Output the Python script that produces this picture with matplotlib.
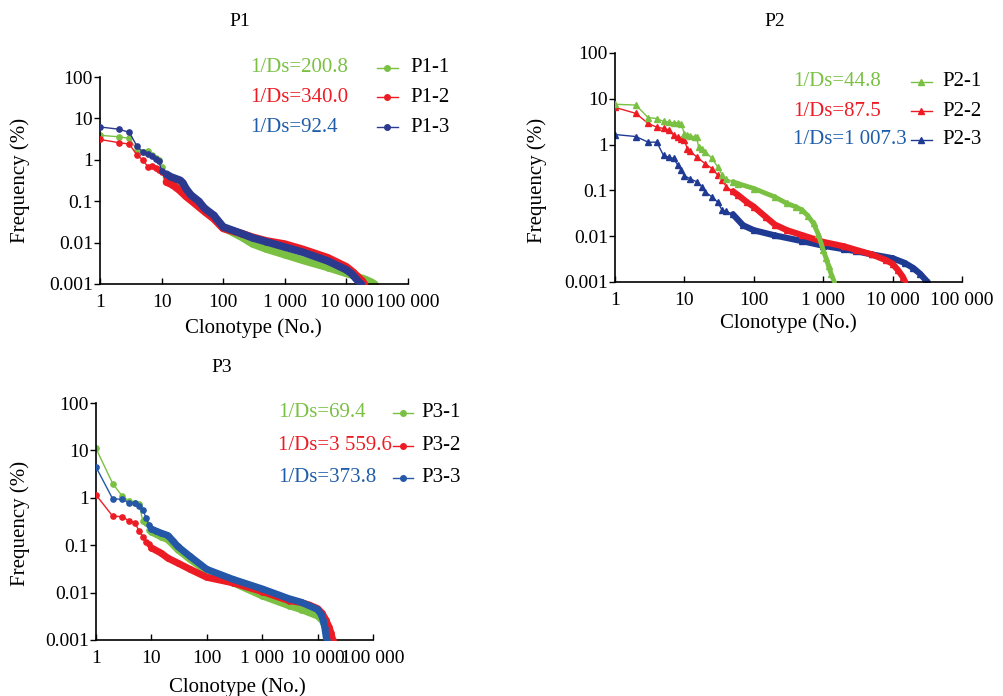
import numpy as np
import matplotlib
matplotlib.use("Agg")
import matplotlib.pyplot as plt
from matplotlib.lines import Line2D
from matplotlib.ticker import NullLocator

plt.rcParams['font.family'] = ['Liberation Serif', 'DejaVu Serif']

W, H = 1004, 696

GREEN = '#7ac143'
RED = '#ed1c24'
BLUE_TXT = '#1f5daa'

x_ticks = [1, 10, 100, 1000, 10000, 100000]
x_labels = ['1', '10', '100', '1 000', '10 000', '100 000']
y_ticks = [0.001, 0.01, 0.1, 1, 10, 100]
y_labels = ['0.001', '0.01', '0.1', '1', '10', '100']

# ---- P1 rank / frequency (%) ----
p1_1_rank = [1, 2, 3, 4, 5, 6, 7, 8, 9, 10, 12, 15, 18, 20, 25, 30, 40, 50, 70, 100,
             200, 300, 500, 1000, 2000, 5000, 10000, 15000, 20000, 25000, 28500, 30000]
p1_1_freq = [3.9, 3.6, 3.3, 1.7, 1.55, 1.6, 1.3, 1.1, 1.0, 0.68, 0.38, 0.32, 0.28, 0.25, 0.18, 0.14,
             0.095, 0.065, 0.042, 0.023, 0.0135, 0.0093, 0.007, 0.0051, 0.0037, 0.0025, 0.0018,
             0.0015, 0.0013, 0.00112, 0.001, 0.0009]
p1_2_rank = [1, 2, 3, 4, 5, 6, 7, 8, 9, 10, 12, 15, 20, 25, 30, 50, 70, 100, 200, 300, 500,
             1000, 2000, 5000, 10000, 13000, 16000, 18000, 19500, 21000]
p1_2_freq = [3.1, 2.6, 2.4, 1.28, 0.98, 0.67, 0.7, 0.65, 0.58, 0.51, 0.29, 0.25, 0.18, 0.13, 0.105,
             0.056, 0.038, 0.022, 0.0165, 0.0135, 0.011, 0.0092, 0.0068, 0.0043, 0.0026, 0.0019,
             0.0014, 0.0012, 0.001, 0.0008]
p1_3_rank = [1, 2, 3, 4, 5, 6, 7, 8, 9, 10, 12, 14, 17, 20, 22, 25, 30, 40, 50, 70, 100, 200,
             300, 500, 1000, 2000, 5000, 10000, 12000, 14000, 16000, 17500, 18500]
p1_3_freq = [6.2, 5.5, 4.6, 2.1, 1.55, 1.37, 1.23, 1.03, 0.94, 0.54, 0.45, 0.39, 0.35, 0.32, 0.28,
             0.2, 0.14, 0.1, 0.067, 0.046, 0.024, 0.0165, 0.013, 0.0105, 0.0078, 0.0058, 0.0036,
             0.0022, 0.0018, 0.0014, 0.0011, 0.001, 0.0008]

# ---- P2 ----
p2_1_rank = [1, 2, 3, 4, 5, 6, 7, 8, 9, 10, 11, 12, 14, 15, 16, 18, 20, 25, 30, 35, 40, 50, 60,
             100, 200, 300, 400, 500, 600, 725, 850, 1000, 1100, 1200, 1300, 1450, 1550]
p2_1_freq = [7.6, 7.3, 3.9, 3.7, 3.2, 3.1, 3.0, 3.0, 2.8, 1.74, 1.6, 1.55, 1.5, 1.45, 0.89, 0.8,
             0.7, 0.5, 0.33, 0.22, 0.18, 0.155, 0.14, 0.11, 0.072, 0.052, 0.044, 0.037, 0.028,
             0.019, 0.011, 0.005, 0.0033, 0.0022, 0.0015, 0.001, 0.0008]
p2_2_rank = [1, 2, 3, 4, 5, 6, 7, 8, 9, 10, 11, 12, 15, 20, 25, 30, 35, 40, 50, 60, 80, 100, 150,
             200, 300, 500, 1000, 2000, 3000, 5000, 8000, 10000, 12000, 14000, 15200, 16000]
p2_2_freq = [6.5, 4.8, 2.9, 2.4, 2.25, 2.1, 1.6, 1.45, 1.35, 1.25, 0.82, 0.72, 0.54, 0.38, 0.3,
             0.22, 0.17, 0.12, 0.095, 0.078, 0.055, 0.044, 0.026, 0.018, 0.0135, 0.0105, 0.0075,
             0.006, 0.005, 0.004, 0.003, 0.0025, 0.0018, 0.0013, 0.001, 0.0008]
p2_3_rank = [1, 2, 3, 4, 5, 6, 7, 8, 9, 10, 12, 15, 18, 20, 25, 30, 35, 40, 50, 70, 100, 200,
             500, 1000, 2000, 3000, 5000, 10000, 15000, 20000, 25000, 30000, 32000, 34000]
p2_3_freq = [1.66, 1.5, 1.13, 1.13, 0.58, 0.53, 0.5, 0.36, 0.28, 0.21, 0.18, 0.155, 0.12, 0.092,
             0.072, 0.056, 0.037, 0.035, 0.03, 0.0173, 0.0135, 0.0104, 0.0078, 0.0062, 0.0052,
             0.0047, 0.004, 0.0033, 0.0026, 0.002, 0.0015, 0.0011, 0.001, 0.0008]

# ---- P3 ----
p3_1_rank = [1, 2, 3, 4, 5, 6, 7, 8, 9, 10, 15, 20, 30, 50, 100, 200, 300, 1000, 3000, 5000,
             10000, 12000, 14000, 15500, 16700, 17500]
p3_1_freq = [11.0, 2.0, 1.07, 0.85, 0.77, 0.75, 0.32, 0.29, 0.21, 0.19, 0.15, 0.13, 0.08, 0.05,
             0.028, 0.019, 0.016, 0.0085, 0.0053, 0.0044, 0.0032, 0.0026, 0.0019, 0.0014, 0.001,
             0.0008]
p3_2_rank = [1, 2, 3, 4, 5, 6, 7, 8, 9, 10, 15, 20, 30, 50, 100, 300, 1000, 3000, 5000, 7000,
             10000, 12000, 14000, 16000, 17500, 18700, 19500]
p3_2_freq = [1.15, 0.41, 0.40, 0.32, 0.3, 0.2, 0.15, 0.115, 0.105, 0.088, 0.068, 0.053, 0.042,
             0.031, 0.021, 0.016, 0.0105, 0.0068, 0.0062, 0.0055, 0.0046, 0.0037, 0.0027, 0.0019,
             0.0014, 0.001, 0.0008]
p3_3_rank = [1, 2, 3, 4, 5, 6, 7, 8, 9, 10, 12, 15, 20, 25, 30, 50, 100, 300, 1000, 3000, 5000,
             10000, 11500, 12500, 13500, 14200, 14600, 15000]
p3_3_freq = [4.45, 0.95, 0.93, 0.78, 0.77, 0.68, 0.56, 0.38, 0.27, 0.22, 0.2, 0.18, 0.16, 0.12,
             0.094, 0.058, 0.031, 0.019, 0.012, 0.0075, 0.0063, 0.0044, 0.0035, 0.0027, 0.0018,
             0.0012, 0.001, 0.0008]

p1_ds = ['1/Ds=200.8', '1/Ds=340.0', '1/Ds=92.4']
p2_ds = ['1/Ds=44.8', '1/Ds=87.5', '1/Ds=1 007.3']
p3_ds = ['1/Ds=69.4', '1/Ds=3 559.6', '1/Ds=373.8']


def fx(x):
    return x / W


def fy(y):
    return 1 - y / H


def make_axes(fig, left, top, right, bottom):
    ax = fig.add_axes([fx(left), fy(bottom), (right - left) / W, (bottom - top) / H])
    ax.set_xscale('log')
    ax.set_yscale('log')
    ax.set_xlim(1, 1e5)
    ax.set_ylim(1e-3, 100)
    for s in ['top', 'right']:
        ax.spines[s].set_visible(False)
    for s in ['left', 'bottom']:
        ax.spines[s].set_linewidth(1.2)
    ax.set_xticks(x_ticks)
    ax.set_xticklabels(x_labels)
    ax.set_yticks(y_ticks)
    ax.set_yticklabels(y_labels)
    ax.xaxis.set_minor_locator(NullLocator())
    ax.yaxis.set_minor_locator(NullLocator())
    ax.tick_params(axis='x', direction='in', length=4, width=1, pad=7, labelsize=14)
    ax.tick_params(axis='y', direction='out', length=4, width=1, pad=1, labelsize=14)
    return ax


def draw_curve(ax, ranks, freqs, color, marker, ms, thick_from, lw_thick, z):
    ranks = np.array(ranks, dtype=float)
    freqs = np.array(freqs)
    ax.plot(ranks, freqs, color=color, lw=1.0, marker=marker, ms=ms,
            mec=color, mfc=color, zorder=z)
    tail = ranks >= thick_from
    ax.plot(ranks[tail], freqs[tail], color=color, lw=lw_thick,
            solid_capstyle='round', solid_joinstyle='round', zorder=z)


def legend_block(fig, ds_texts, names, colors, line_cols, marker, x_txt, rows, x_line, x_name):
    for txt, name, c, lc, y in zip(ds_texts, names, colors, line_cols, rows):
        fig.text(fx(x_txt), fy(y), txt, color=c, fontsize=15, ha='left', va='center')
        fig.add_artist(Line2D([fx(x_line[0]), fx(x_line[1])], [fy(y), fy(y)],
                              color=lc, lw=1.0, transform=fig.transFigure))
        fig.add_artist(Line2D([fx((x_line[0] + x_line[1]) / 2)], [fy(y)], color=lc,
                              marker=marker, ms=4, lw=0, transform=fig.transFigure))
        fig.text(fx(x_name), fy(y), name, color='black', fontsize=15, ha='left', va='center')


fig = plt.figure(figsize=(W / 100, H / 100), dpi=100)

# P1
ax1 = make_axes(fig, 100, 77, 408, 284)
b1 = '#2b3a8f'
draw_curve(ax1, p1_1_rank, p1_1_freq, GREEN, 'o', 3.8, 12, 5.5, 2)
draw_curve(ax1, p1_2_rank, p1_2_freq, RED, 'o', 3.8, 12, 5.5, 3)
draw_curve(ax1, p1_3_rank, p1_3_freq, b1, 'o', 3.8, 12, 5.5, 4)
fig.text(fx(240), fy(22), 'P1', fontsize=14, ha='center', va='center')
fig.text(fx(20), fy(180), 'Frequency (%)', fontsize=15, rotation=90, ha='center', va='center')
fig.text(fx(253), fy(328), 'Clonotype (No.)', fontsize=15, ha='center', va='center')
legend_block(fig, p1_ds, ['P1-1', 'P1-2', 'P1-3'], [GREEN, RED, BLUE_TXT], [GREEN, RED, b1],
             'o', 250, [68, 97, 127], (377, 398), 410)

# P2
ax2 = make_axes(fig, 615, 53, 962, 282)
b2 = '#1f3a93'
draw_curve(ax2, p2_3_rank, p2_3_freq, b2, '^', 4, 45, 4.5, 2)
draw_curve(ax2, p2_2_rank, p2_2_freq, RED, '^', 4, 45, 4.5, 3)
draw_curve(ax2, p2_1_rank, p2_1_freq, GREEN, '^', 4, 45, 3.5, 4)
fig.text(fx(775), fy(22), 'P2', fontsize=14, ha='center', va='center')
fig.text(fx(537), fy(180), 'Frequency (%)', fontsize=15, rotation=90, ha='center', va='center')
fig.text(fx(788), fy(323), 'Clonotype (No.)', fontsize=15, ha='center', va='center')
legend_block(fig, p2_ds, ['P2-1', 'P2-2', 'P2-3'], [GREEN, RED, BLUE_TXT], [GREEN, RED, b2],
             '^', 793, [82, 111, 140], (911, 932), 942)

# P3
ax3 = make_axes(fig, 96, 403, 373, 640)
b3 = '#2457a8'
draw_curve(ax3, p3_1_rank, p3_1_freq, GREEN, 'o', 3.8, 10, 5, 2)
draw_curve(ax3, p3_2_rank, p3_2_freq, RED, 'o', 3.8, 10, 5, 3)
draw_curve(ax3, p3_3_rank, p3_3_freq, b3, 'o', 3.8, 10, 5, 4)
fig.text(fx(222), fy(368), 'P3', fontsize=14, ha='center', va='center')
fig.text(fx(20), fy(523), 'Frequency (%)', fontsize=15, rotation=90, ha='center', va='center')
fig.text(fx(237), fy(687), 'Clonotype (No.)', fontsize=15, ha='center', va='center')
legend_block(fig, p3_ds, ['P3-1', 'P3-2', 'P3-3'], [GREEN, RED, BLUE_TXT], [GREEN, RED, b3],
             'o', 278, [413, 446, 478], (393, 413), 421)

fig.savefig('out.png', dpi=100)
